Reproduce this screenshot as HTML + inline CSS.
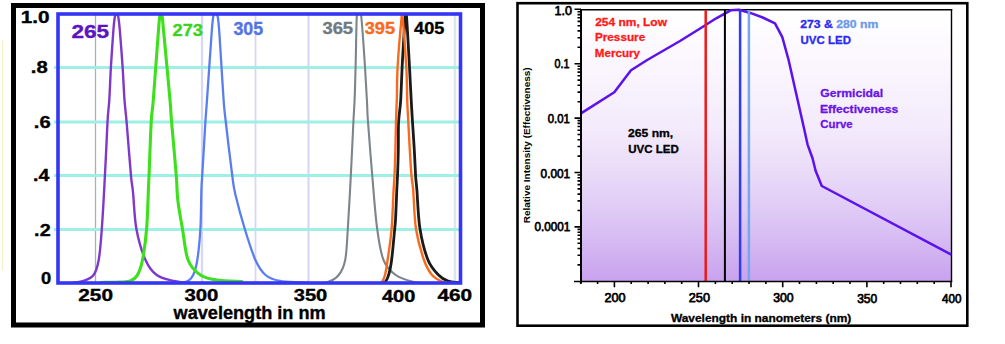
<!DOCTYPE html>
<html><head><meta charset="utf-8"><style>
html,body{margin:0;padding:0;background:#fff;width:1005px;height:344px;overflow:hidden}
svg{display:block;font-family:"Liberation Sans", sans-serif}
</style></head><body>
<svg width="1005" height="344" viewBox="0 0 1005 344">
<rect width="1005" height="344" fill="#fff"/>
<line x1="2.5" y1="40" x2="2.5" y2="270" stroke="#f4f0c8" stroke-width="1"/>
<line x1="95.5" y1="15" x2="95.5" y2="282" stroke="#a9b2b2" stroke-width="1.3"/>
<line x1="202" y1="15" x2="202" y2="282" stroke="#d6d6fa" stroke-width="2.2"/>
<line x1="255.5" y1="15" x2="255.5" y2="282" stroke="#d6d6fa" stroke-width="1.8"/>
<line x1="308.5" y1="15" x2="308.5" y2="282" stroke="#d6d6fa" stroke-width="2.2"/>
<line x1="455" y1="15" x2="455" y2="282" stroke="#dfe7e4" stroke-width="2.6"/>
<line x1="54" y1="67.5" x2="459" y2="67.5" stroke="#9ef0e6" stroke-width="3.2"/>
<line x1="54" y1="122" x2="459" y2="122" stroke="#9ef0e6" stroke-width="3.2"/>
<line x1="54" y1="175.5" x2="459" y2="175.5" stroke="#9ef0e6" stroke-width="3.2"/>
<line x1="54" y1="229.5" x2="459" y2="229.5" stroke="#9ef0e6" stroke-width="3.2"/>
<clipPath id="lc"><rect x="58" y="14.5" width="402" height="268"/></clipPath><g clip-path="url(#lc)">
<path d="M60.0,283.5 C62.0,283.4 68.1,283.4 72.0,283.0 C75.9,282.6 79.8,282.3 83.4,281.0 C87.0,279.7 91.0,278.5 93.6,275.0 C96.1,271.5 97.3,267.7 98.7,260.0 C100.1,252.3 100.8,243.0 101.8,229.0 C102.8,215.0 104.0,193.8 104.9,176.0 C105.9,158.2 106.8,134.7 107.5,122.0 C108.2,109.3 108.7,109.2 109.3,100.0 C109.9,90.8 110.2,78.7 110.9,67.0 C111.6,55.3 112.8,38.3 113.4,30.0 C114.1,21.7 114.3,19.8 114.8,17.0 C115.3,14.2 115.9,13.5 116.5,13.5 C117.1,13.5 117.8,14.2 118.3,17.0 C118.8,19.8 119.1,21.7 119.8,30.0 C120.5,38.3 121.8,55.3 122.6,67.0 C123.4,78.7 123.8,90.8 124.5,100.0 C125.2,109.2 125.5,109.3 126.6,122.0 C127.7,134.7 129.9,164.3 131.0,176.0 C132.1,187.7 132.1,183.2 133.0,192.0 C133.9,200.8 134.3,217.7 136.4,229.0 C138.5,240.3 142.1,252.3 145.5,260.0 C148.9,267.7 151.9,271.5 156.7,275.0 C161.4,278.5 168.8,279.7 174.0,281.0 C179.2,282.3 183.7,282.6 188.0,283.0 C192.3,283.4 198.0,283.4 200.0,283.5" fill="none" stroke="#7e38cc" stroke-width="2.4" stroke-linejoin="round"/>
<path d="M165.0,283.5 C167.7,283.3 177.2,282.9 181.0,282.5 C184.8,282.1 186.0,282.2 188.0,281.0 C190.0,279.8 191.6,278.5 193.2,275.0 C194.8,271.5 196.1,267.7 197.3,260.0 C198.5,252.3 199.7,240.7 200.4,229.0 C201.1,217.3 201.1,198.8 201.4,190.0 C201.7,181.2 201.5,187.3 202.2,176.0 C202.9,164.7 204.6,134.7 205.4,122.0 C206.2,109.3 206.0,114.5 207.0,100.0 C208.0,85.5 210.5,48.8 211.5,35.0 C212.5,21.2 212.5,20.6 213.2,17.0 C213.9,13.4 214.7,13.5 215.5,13.5 C216.3,13.5 217.1,13.4 217.8,17.0 C218.5,20.6 218.5,21.2 219.5,35.0 C220.5,48.8 222.5,85.5 223.6,100.0 C224.7,114.5 224.4,109.3 225.8,122.0 C227.2,134.7 230.7,163.8 232.3,176.0 C233.9,188.2 233.4,186.2 235.5,195.0 C237.6,203.8 241.5,218.2 244.8,229.0 C248.1,239.8 252.0,252.3 255.4,260.0 C258.9,267.7 261.4,271.5 265.5,275.0 C269.6,278.5 274.1,279.8 279.8,281.0 C285.6,282.2 293.3,282.1 300.0,282.5 C306.7,282.9 316.7,283.3 320.0,283.5" fill="none" stroke="#5a7ef0" stroke-width="2.3" stroke-linejoin="round"/>
<path d="M100.0,282.5 C103.3,282.4 115.0,282.2 120.0,282.0 C125.0,281.8 127.4,282.2 130.3,281.0 C133.2,279.8 135.4,278.5 137.4,275.0 C139.4,271.5 141.0,267.7 142.5,260.0 C144.0,252.3 145.6,240.7 146.6,229.0 C147.6,217.3 148.0,198.8 148.4,190.0 C148.8,181.2 148.5,187.3 149.0,176.0 C149.5,164.7 150.5,134.7 151.2,122.0 C151.9,109.3 152.1,115.3 153.3,100.0 C154.5,84.7 157.4,44.0 158.5,30.0 C159.6,16.0 159.4,18.3 160.0,16.0 C160.6,13.7 161.4,13.7 162.0,16.0 C162.6,18.3 162.2,16.0 163.5,30.0 C164.8,44.0 168.7,84.7 170.0,100.0 C171.3,115.3 170.5,109.3 171.6,122.0 C172.7,134.7 175.3,163.0 176.3,176.0 C177.3,189.0 176.8,191.2 177.8,200.0 C178.8,208.8 180.8,219.0 182.5,229.0 C184.2,239.0 185.1,252.3 188.1,260.0 C191.1,267.7 195.6,271.7 200.4,275.0 C205.2,278.3 209.6,278.9 216.7,280.0 C223.8,281.1 238.5,281.2 242.8,281.5" fill="none" stroke="#3ee01e" stroke-width="3.1" stroke-linejoin="round"/>
<path d="M310.0,283.5 C312.8,283.3 321.7,283.9 326.5,282.5 C331.3,281.1 335.6,278.8 338.7,275.0 C341.8,271.2 343.7,267.7 345.2,260.0 C346.7,252.3 346.9,243.0 347.8,229.0 C348.7,215.0 349.9,193.8 350.8,176.0 C351.7,158.2 352.8,134.7 353.4,122.0 C354.0,109.3 354.2,109.2 354.6,100.0 C355.0,90.8 355.2,81.0 355.6,67.0 C356.0,53.0 356.3,24.8 356.8,16.0 C357.3,7.2 358.1,14.0 358.8,14.0 C359.5,14.0 360.2,7.2 361.2,16.0 C362.2,24.8 364.1,53.0 365.0,67.0 C365.9,81.0 366.4,90.8 366.9,100.0 C367.4,109.2 367.1,109.3 368.0,122.0 C368.9,134.7 370.8,158.2 372.3,176.0 C373.8,193.8 375.3,215.0 377.2,229.0 C379.1,243.0 380.4,252.3 383.5,260.0 C386.6,267.7 390.6,271.3 395.7,275.0 C400.8,278.7 408.3,280.6 414.0,282.0 C419.7,283.4 427.3,283.2 430.0,283.5" fill="none" stroke="#7c8589" stroke-width="2.1" stroke-linejoin="round"/>
<path d="M375.0,283.5 C376.6,283.3 382.2,283.9 384.5,282.5 C386.8,281.1 387.4,278.8 388.6,275.0 C389.8,271.2 390.6,267.7 391.6,260.0 C392.6,252.3 394.1,235.7 394.7,229.0 C395.3,222.3 395.1,226.5 395.5,220.0 C395.9,213.5 396.5,197.3 396.8,190.0 C397.1,182.7 397.2,182.7 397.5,176.0 C397.8,169.3 398.1,159.0 398.3,150.0 C398.5,141.0 398.2,130.3 398.6,122.0 C399.0,113.7 400.1,110.3 400.7,100.0 C401.3,89.7 401.7,74.1 402.5,60.0 C403.3,45.9 404.7,22.8 405.4,15.5 C406.1,8.2 405.8,7.4 406.5,16.0 C407.2,24.6 408.7,53.0 409.5,67.0 C410.3,81.0 410.7,90.8 411.2,100.0 C411.7,109.2 412.0,113.7 412.5,122.0 C413.0,130.3 413.8,141.0 414.3,150.0 C414.8,159.0 415.2,169.3 415.6,176.0 C416.0,182.7 416.2,181.2 416.9,190.0 C417.6,198.8 418.1,217.3 420.0,229.0 C421.9,240.7 424.9,252.3 428.0,260.0 C431.1,267.7 435.2,271.5 438.5,275.0 C441.8,278.5 444.6,279.8 448.0,281.0 C451.4,282.2 457.2,282.2 459.0,282.5" fill="none" stroke="#1a1a1a" stroke-width="2.8" stroke-linejoin="round"/>
<path d="M378.0,283.5 C378.6,283.3 380.3,283.9 381.5,282.5 C382.7,281.1 384.0,278.8 385.0,275.0 C386.0,271.2 386.5,267.7 387.6,260.0 C388.7,252.3 390.6,240.7 391.6,229.0 C392.6,217.3 393.1,198.8 393.6,190.0 C394.1,181.2 394.2,182.7 394.5,176.0 C394.8,169.3 395.1,159.0 395.4,150.0 C395.6,141.0 395.8,130.3 396.0,122.0 C396.2,113.7 396.5,109.2 396.8,100.0 C397.1,90.8 396.8,81.0 397.6,67.0 C398.4,53.0 400.9,24.5 401.7,16.0 C402.5,7.5 401.7,7.5 402.5,16.0 C403.3,24.5 405.5,53.0 406.3,67.0 C407.1,81.0 406.9,90.8 407.2,100.0 C407.5,109.2 407.9,113.7 408.3,122.0 C408.7,130.3 409.3,141.0 409.8,150.0 C410.3,159.0 410.9,169.3 411.5,176.0 C412.1,182.7 412.4,181.2 413.2,190.0 C413.9,198.8 414.2,217.3 416.0,229.0 C417.8,240.7 421.3,252.3 424.0,260.0 C426.7,267.7 428.9,271.3 432.0,275.0 C435.1,278.7 439.6,280.6 442.6,282.0 C445.6,283.4 448.8,283.2 450.0,283.5" fill="none" stroke="#fa6a1c" stroke-width="2.4" stroke-linejoin="round"/>
</g>
<rect x="58" y="14" width="402.5" height="269" fill="none" stroke="#3535f5" stroke-width="3.6"/>
<rect x="13.5" y="5.5" width="469" height="319.5" fill="none" stroke="#000" stroke-width="5"/>
<text x="71.42" y="37.64" font-size="18.60" font-weight="bold" fill="#5c16c0" textLength="37.72" lengthAdjust="spacingAndGlyphs" stroke="#5c16c0" stroke-width="0.35" stroke-linejoin="round" >265</text>
<text x="172.63" y="36.15" font-size="16.20" font-weight="bold" fill="#3ad41e" textLength="30.34" lengthAdjust="spacingAndGlyphs" stroke="#3ad41e" stroke-width="0.35" stroke-linejoin="round" >273</text>
<text x="233.48" y="35.46" font-size="17.60" font-weight="bold" fill="#5474e4" textLength="29.70" lengthAdjust="spacingAndGlyphs" stroke="#5474e4" stroke-width="0.35" stroke-linejoin="round" >305</text>
<text x="322.41" y="34.36" font-size="17.00" font-weight="bold" fill="#6f7a80" textLength="30.69" lengthAdjust="spacingAndGlyphs" stroke="#6f7a80" stroke-width="0.35" stroke-linejoin="round" >365</text>
<text x="364.70" y="34.46" font-size="17.00" font-weight="bold" fill="#fa6a1c" textLength="30.37" lengthAdjust="spacingAndGlyphs" stroke="#fa6a1c" stroke-width="0.35" stroke-linejoin="round" >395</text>
<text x="414.14" y="34.31" font-size="17.00" font-weight="bold" fill="#000" textLength="30.19" lengthAdjust="spacingAndGlyphs" stroke="#000" stroke-width="0.35" stroke-linejoin="round" >405</text>
<text x="20.77" y="23.06" font-size="16.60" font-weight="bold" fill="#000" textLength="28.84" lengthAdjust="spacingAndGlyphs" stroke="#000" stroke-width="0.35" stroke-linejoin="round" >1.0</text>
<text x="30.75" y="73.43" font-size="16.60" font-weight="bold" fill="#000" textLength="16.91" lengthAdjust="spacingAndGlyphs" stroke="#000" stroke-width="0.35" stroke-linejoin="round" >.8</text>
<text x="33.80" y="127.94" font-size="16.60" font-weight="bold" fill="#000" textLength="16.79" lengthAdjust="spacingAndGlyphs" stroke="#000" stroke-width="0.35" stroke-linejoin="round" >.6</text>
<text x="33.04" y="181.38" font-size="16.60" font-weight="bold" fill="#000" textLength="16.30" lengthAdjust="spacingAndGlyphs" stroke="#000" stroke-width="0.35" stroke-linejoin="round" >.4</text>
<text x="34.14" y="236.31" font-size="16.60" font-weight="bold" fill="#000" textLength="16.54" lengthAdjust="spacingAndGlyphs" stroke="#000" stroke-width="0.35" stroke-linejoin="round" >.2</text>
<text x="41.01" y="284.42" font-size="16.60" font-weight="bold" fill="#000" textLength="10.22" lengthAdjust="spacingAndGlyphs" stroke="#000" stroke-width="0.35" stroke-linejoin="round" >0</text>
<text x="78.25" y="301.47" font-size="15.70" font-weight="bold" fill="#000" textLength="34.73" lengthAdjust="spacingAndGlyphs" stroke="#000" stroke-width="0.35" stroke-linejoin="round" >250</text>
<text x="184.48" y="301.35" font-size="15.70" font-weight="bold" fill="#000" textLength="33.98" lengthAdjust="spacingAndGlyphs" stroke="#000" stroke-width="0.35" stroke-linejoin="round" >300</text>
<text x="293.76" y="301.47" font-size="15.70" font-weight="bold" fill="#000" textLength="33.55" lengthAdjust="spacingAndGlyphs" stroke="#000" stroke-width="0.35" stroke-linejoin="round" >350</text>
<text x="382.01" y="301.70" font-size="15.70" font-weight="bold" fill="#000" textLength="33.34" lengthAdjust="spacingAndGlyphs" stroke="#000" stroke-width="0.35" stroke-linejoin="round" >400</text>
<text x="437.45" y="300.95" font-size="15.70" font-weight="bold" fill="#000" textLength="34.76" lengthAdjust="spacingAndGlyphs" stroke="#000" stroke-width="0.35" stroke-linejoin="round" >460</text>
<text x="173.55" y="318.52" font-size="17.60" font-weight="bold" fill="#000" textLength="152.11" lengthAdjust="spacingAndGlyphs" stroke="#000" stroke-width="0.35" stroke-linejoin="round" >wavelength in nm</text>
<defs><linearGradient id="bg" x1="0" y1="0" x2="0" y2="1"><stop offset="0" stop-color="#ffffff"/><stop offset="0.185" stop-color="#fbf7fe"/><stop offset="0.44" stop-color="#f3eafb"/><stop offset="0.59" stop-color="#eadcf8"/><stop offset="0.775" stop-color="#dcc6f5"/><stop offset="1" stop-color="#c9a2ee"/></linearGradient></defs>
<rect x="581" y="9.7" width="370.5" height="271.5" fill="url(#bg)"/>
<line x1="580" y1="9.7" x2="952.2" y2="9.7" stroke="#000" stroke-width="1.5"/>
<line x1="951.5" y1="9" x2="951.5" y2="282" stroke="#000" stroke-width="1.4"/>
<path d="M581.0,113.4 L614.3,92.2 L631.0,70.2 L647.2,60.0 L680.0,41.0 L700.9,28.0 L716.2,18.3 L730.7,10.3 L739.0,9.8 L751.0,13.2 L762.7,17.5 L775.0,23.3 L782.3,37.2 L788.6,60.0 L796.5,95.0 L804.4,130.0 L807.5,144.3 L812.6,158.5 L815.6,170.7 L821.8,186.0 L951.3,254.6" fill="none" stroke="#5c12ec" stroke-width="2.5" stroke-linejoin="round"/>
<line x1="705.7" y1="10" x2="705.7" y2="281" stroke="#f01818" stroke-width="2.5"/>
<line x1="724.9" y1="10" x2="724.9" y2="281" stroke="#000" stroke-width="2"/>
<line x1="740.1" y1="10" x2="740.1" y2="281" stroke="#2c3cf0" stroke-width="2.5"/>
<line x1="748.9" y1="10" x2="748.9" y2="281" stroke="#74a8ec" stroke-width="2.5"/>
<line x1="581" y1="9" x2="581" y2="283.5" stroke="#000" stroke-width="2"/>
<line x1="574" y1="281.5" x2="952.2" y2="281.5" stroke="#000" stroke-width="1.6"/>
<path d="M574.5,9.3H581 M577.5,47.3H581 M577.5,37.7H581 M577.5,30.9H581 M577.5,25.7H581 M577.5,21.4H581 M577.5,17.7H581 M577.5,14.6H581 M577.5,11.8H581 M574.5,63.7H581 M577.5,101.7H581 M577.5,92.1H581 M577.5,85.3H581 M577.5,80.1H581 M577.5,75.8H581 M577.5,72.1H581 M577.5,69.0H581 M577.5,66.2H581 M574.5,118.1H581 M577.5,156.1H581 M577.5,146.5H581 M577.5,139.7H581 M577.5,134.5H581 M577.5,130.2H581 M577.5,126.5H581 M577.5,123.4H581 M577.5,120.6H581 M574.5,172.5H581 M577.5,210.5H581 M577.5,200.9H581 M577.5,194.1H581 M577.5,188.9H581 M577.5,184.6H581 M577.5,180.9H581 M577.5,177.8H581 M577.5,175.0H581 M574.5,226.9H581 M577.5,264.9H581 M577.5,255.3H581 M577.5,248.5H581 M577.5,243.3H581 M577.5,239.0H581 M577.5,235.3H581 M577.5,232.2H581 M577.5,229.4H581 M580.7,281.5V284 M597.6,281.5V284 M614.4,281.5V287.3 M631.2,281.5V284 M648.1,281.5V284 M664.9,281.5V284 M681.7,281.5V284 M698.5,281.5V287.3 M715.4,281.5V284 M732.2,281.5V284 M749.0,281.5V284 M765.9,281.5V284 M782.7,281.5V287.3 M799.5,281.5V284 M816.4,281.5V284 M833.2,281.5V284 M850.0,281.5V284 M866.9,281.5V287.3 M883.7,281.5V284 M900.5,281.5V284 M917.3,281.5V284 M934.2,281.5V284 M951.0,281.5V287.3" stroke="#000" stroke-width="1.6" fill="none"/>
<rect x="517.5" y="3.2" width="449.8" height="322.5" fill="none" stroke="#000" stroke-width="2.6"/>
<text x="554.58" y="14.66" font-size="13.40" font-weight="normal" fill="#000" textLength="17.50" lengthAdjust="spacingAndGlyphs" stroke="#000" stroke-width="0.75" stroke-linejoin="round" >1.0</text>
<text x="554.62" y="67.54" font-size="13.40" font-weight="normal" fill="#000" textLength="14.82" lengthAdjust="spacingAndGlyphs" stroke="#000" stroke-width="0.75" stroke-linejoin="round" >0.1</text>
<text x="547.70" y="122.50" font-size="13.40" font-weight="normal" fill="#000" textLength="22.06" lengthAdjust="spacingAndGlyphs" stroke="#000" stroke-width="0.75" stroke-linejoin="round" >0.01</text>
<text x="540.59" y="177.56" font-size="13.40" font-weight="normal" fill="#000" textLength="29.55" lengthAdjust="spacingAndGlyphs" stroke="#000" stroke-width="0.75" stroke-linejoin="round" >0.001</text>
<text x="534.50" y="230.54" font-size="13.40" font-weight="normal" fill="#000" textLength="35.80" lengthAdjust="spacingAndGlyphs" stroke="#000" stroke-width="0.75" stroke-linejoin="round" >0.0001</text>
<text x="604.50" y="302.27" font-size="13.40" font-weight="normal" fill="#000" textLength="21.14" lengthAdjust="spacingAndGlyphs" stroke="#000" stroke-width="0.75" stroke-linejoin="round" >200</text>
<text x="688.81" y="302.49" font-size="13.40" font-weight="normal" fill="#000" textLength="21.22" lengthAdjust="spacingAndGlyphs" stroke="#000" stroke-width="0.75" stroke-linejoin="round" >250</text>
<text x="773.16" y="302.40" font-size="13.40" font-weight="normal" fill="#000" textLength="20.46" lengthAdjust="spacingAndGlyphs" stroke="#000" stroke-width="0.75" stroke-linejoin="round" >300</text>
<text x="857.18" y="302.62" font-size="13.40" font-weight="normal" fill="#000" textLength="20.08" lengthAdjust="spacingAndGlyphs" stroke="#000" stroke-width="0.75" stroke-linejoin="round" >350</text>
<text x="941.95" y="302.57" font-size="13.40" font-weight="normal" fill="#000" textLength="19.41" lengthAdjust="spacingAndGlyphs" stroke="#000" stroke-width="0.75" stroke-linejoin="round" >400</text>
<text x="670.94" y="322.41" font-size="10.90" font-weight="bold" fill="#000" textLength="180.32" lengthAdjust="spacingAndGlyphs" stroke="#000" stroke-width="0.3" stroke-linejoin="round" >Wavelength in nanometers (nm)</text>
<text transform="translate(529.6,223.3) rotate(-90)" x="0" y="0" font-size="9" font-weight="bold" fill="#000" textLength="156" lengthAdjust="spacingAndGlyphs">Relative Intensity (Effectiveness)</text>
<text x="595.16" y="25.58" font-size="10.60" font-weight="bold" fill="#ff1a1a" textLength="71.82" lengthAdjust="spacingAndGlyphs" stroke="#ff1a1a" stroke-width="0.3" stroke-linejoin="round" >254 nm, Low</text>
<text x="594.92" y="40.93" font-size="10.60" font-weight="bold" fill="#ff1a1a" textLength="50.32" lengthAdjust="spacingAndGlyphs" stroke="#ff1a1a" stroke-width="0.3" stroke-linejoin="round" >Pressure</text>
<text x="594.88" y="56.80" font-size="10.60" font-weight="bold" fill="#ff1a1a" textLength="45.14" lengthAdjust="spacingAndGlyphs" stroke="#ff1a1a" stroke-width="0.3" stroke-linejoin="round" >Mercury</text>
<text x="628.02" y="137.35" font-size="10.90" font-weight="bold" fill="#000" textLength="45.20" lengthAdjust="spacingAndGlyphs" stroke="#000" stroke-width="0.3" stroke-linejoin="round" >265 nm,</text>
<text x="628.29" y="152.79" font-size="10.90" font-weight="bold" fill="#000" textLength="50.53" lengthAdjust="spacingAndGlyphs" stroke="#000" stroke-width="0.3" stroke-linejoin="round" >UVC LED</text>
<text x="800.2" y="27.7" font-size="10.9" font-weight="bold" fill="#2a2af0" stroke="#2a2af0" stroke-width="0.3" textLength="78.2" lengthAdjust="spacingAndGlyphs">273 &amp; <tspan fill="#6a9ae8" stroke="#6a9ae8">280 nm</tspan></text>
<text x="800.55" y="43.89" font-size="10.90" font-weight="bold" fill="#2a2af0" textLength="50.42" lengthAdjust="spacingAndGlyphs" stroke="#2a2af0" stroke-width="0.3" stroke-linejoin="round" >UVC LED</text>
<text x="820.25" y="97.23" font-size="10.90" font-weight="bold" fill="#6a14e6" textLength="62.90" lengthAdjust="spacingAndGlyphs" stroke="#6a14e6" stroke-width="0.3" stroke-linejoin="round" >Germicidal</text>
<text x="819.94" y="113.23" font-size="10.90" font-weight="bold" fill="#6a14e6" textLength="78.26" lengthAdjust="spacingAndGlyphs" stroke="#6a14e6" stroke-width="0.3" stroke-linejoin="round" >Effectiveness</text>
<text x="820.36" y="128.33" font-size="10.90" font-weight="bold" fill="#6a14e6" textLength="32.32" lengthAdjust="spacingAndGlyphs" stroke="#6a14e6" stroke-width="0.3" stroke-linejoin="round" >Curve</text>
</svg>
</body></html>
